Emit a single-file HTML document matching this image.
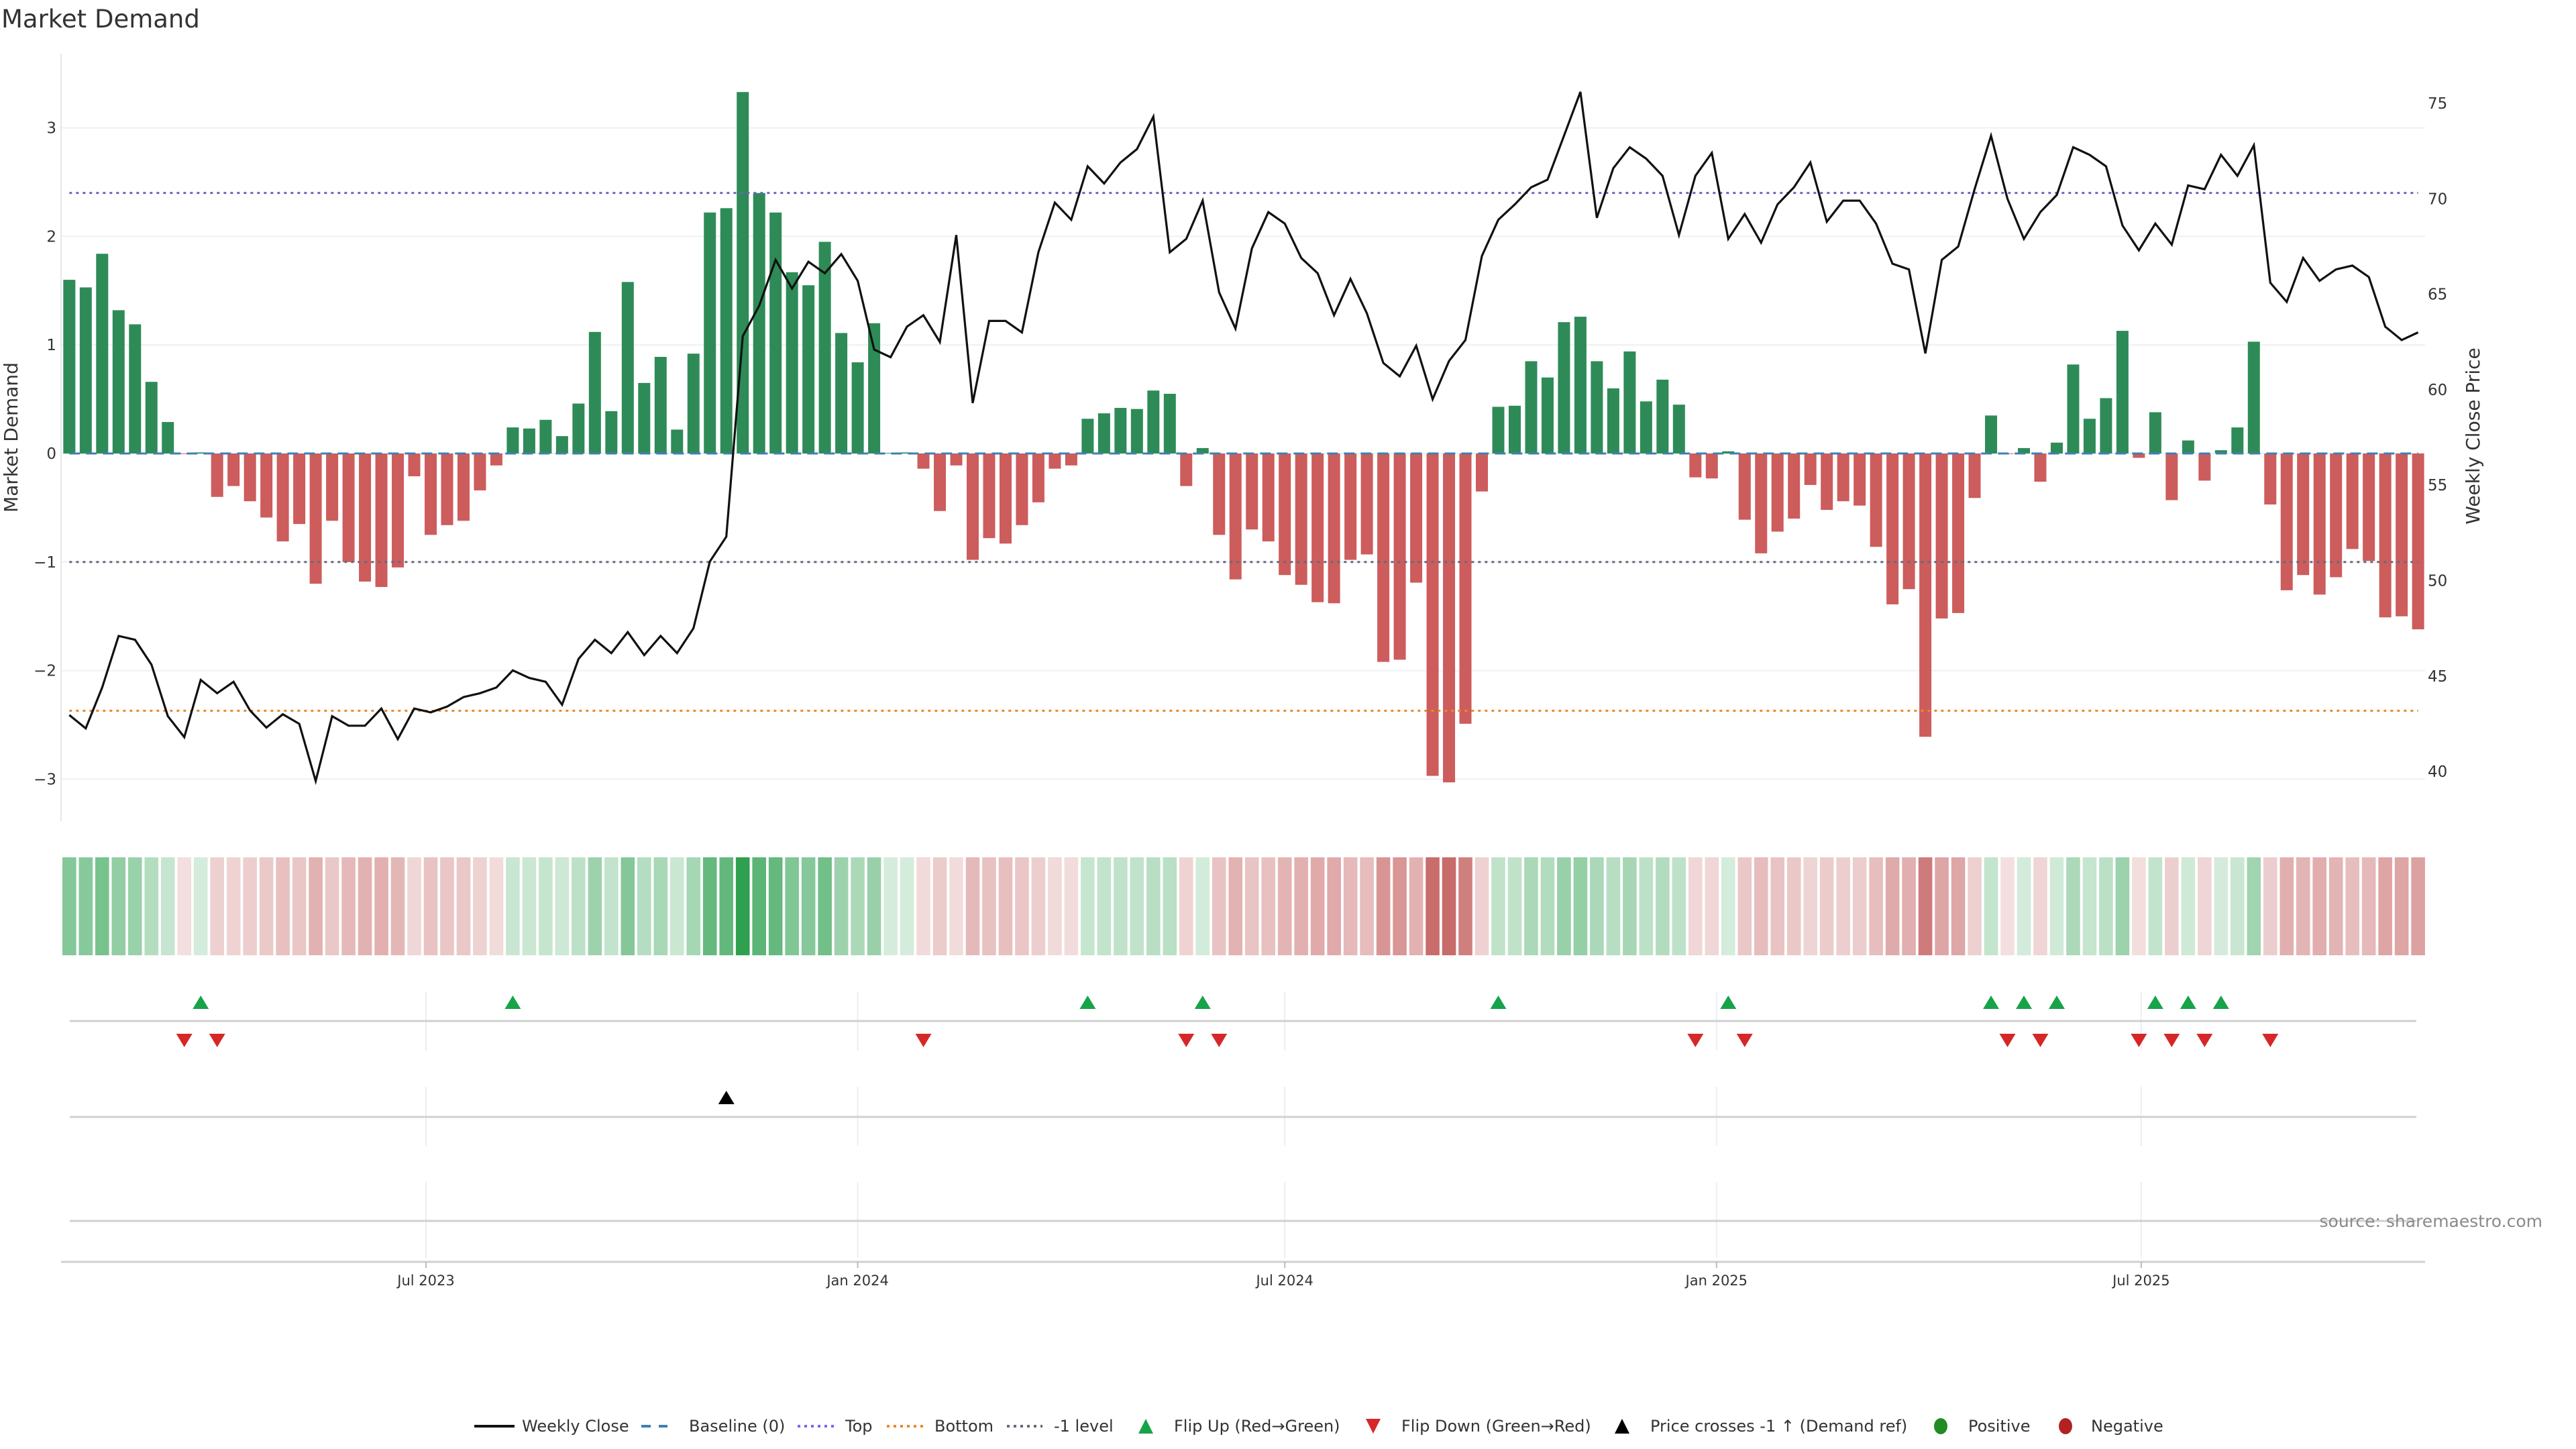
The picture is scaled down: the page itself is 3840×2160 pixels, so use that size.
<!DOCTYPE html>
<html><head><meta charset="utf-8">
<style>
html,body{margin:0;padding:0;background:#fff;}
svg{display:block;font-family:"DejaVu Sans","Liberation Sans",sans-serif;}
</style></head>
<body>
<svg id="chart" xmlns="http://www.w3.org/2000/svg" width="3840" height="2160" viewBox="0 0 3840 2160">
  <rect x="0" y="0" width="3840" height="2160" fill="#fff"/>
  <text x="2" y="41" font-size="37" fill="#333">Market Demand</text>
  <g id="grid"></g>
  <line x1="91" y1="80" x2="91" y2="1224" stroke="#e6e7ec" stroke-width="2"/>
  <g id="bars"></g>
  <g id="refs"></g>
  <g id="price"></g>
  <g id="yticks"></g>
  <g id="rticks"></g>
  <text transform="translate(26,652) rotate(-90)" text-anchor="middle" font-size="28" fill="#333">Market Demand</text>
  <text transform="translate(3696,650) rotate(-90)" text-anchor="middle" font-size="28" fill="#333">Weekly Close Price</text>
  <g id="heat"></g>
  <g id="lower"></g>
  <text x="3790" y="1829" text-anchor="end" font-size="25" fill="#8a8a8a">source: sharemaestro.com</text>
  <g id="legend"></g>
</svg>
<script>
const categoriesStart = "2023-01-30";
const demandValues = [1.60,1.53,1.84,1.32,1.19,0.66,0.29,-0.005,0.01,-0.40,-0.30,-0.44,-0.59,-0.81,-0.65,-1.20,-0.62,-1.00,-1.18,-1.23,-1.05,-0.21,-0.75,-0.66,-0.62,-0.34,-0.11,0.24,0.23,0.31,0.16,0.46,1.12,0.39,1.58,0.65,0.89,0.22,0.92,2.22,2.26,3.33,2.40,2.22,1.67,1.55,1.95,1.11,0.84,1.20,0.005,0.01,-0.14,-0.53,-0.11,-0.98,-0.78,-0.83,-0.66,-0.45,-0.14,-0.11,0.32,0.37,0.42,0.41,0.58,0.55,-0.30,0.05,-0.75,-1.16,-0.70,-0.81,-1.12,-1.21,-1.37,-1.38,-0.98,-0.93,-1.92,-1.90,-1.19,-2.97,-3.03,-2.49,-0.35,0.43,0.44,0.85,0.70,1.21,1.26,0.85,0.60,0.94,0.48,0.68,0.45,-0.22,-0.23,0.02,-0.61,-0.92,-0.72,-0.60,-0.29,-0.52,-0.44,-0.48,-0.86,-1.39,-1.25,-2.61,-1.52,-1.47,-0.41,0.35,-0.005,0.05,-0.26,0.10,0.82,0.32,0.51,1.13,-0.04,0.38,-0.43,0.12,-0.25,0.03,0.24,1.03,-0.47,-1.26,-1.12,-1.30,-1.14,-0.88,-0.99,-1.51,-1.50,-1.62];
const priceValues = [42.96,42.26,44.4,47.1,46.9,45.6,42.9,41.8,44.8,44.1,44.7,43.2,42.3,43.0,42.5,39.5,42.9,42.4,42.4,43.3,41.7,43.3,43.1,43.4,43.9,44.1,44.4,45.3,44.9,44.7,43.5,45.9,46.9,46.2,47.3,46.1,47.1,46.2,47.5,51.0,52.3,62.8,64.4,66.8,65.3,66.7,66.1,67.1,65.7,62.1,61.7,63.3,63.9,62.5,68.1,59.3,63.6,63.6,63.0,67.2,69.8,68.9,71.7,70.8,71.9,72.6,74.3,67.2,67.9,69.9,65.1,63.2,67.4,69.3,68.7,66.9,66.1,63.9,65.8,64.0,61.4,60.7,62.3,59.5,61.5,62.6,67.0,68.9,69.7,70.6,71.0,73.3,75.6,69.0,71.6,72.7,72.1,71.2,68.1,71.2,72.4,67.9,69.2,67.7,69.7,70.6,71.9,68.8,69.9,69.9,68.7,66.6,66.3,61.9,66.8,67.5,70.5,73.3,70.0,67.9,69.3,70.2,72.7,72.3,71.7,68.6,67.3,68.7,67.6,70.7,70.5,72.3,71.2,72.8,65.6,64.6,66.9,65.7,66.3,66.5,65.9,63.3,62.6,63.0];
const leftTicks = [3,2,1,0,-1,-2,-3];
const leftTickLabels = ["3","2","1","0","\u22121","\u22122","\u22123"];
const rightTicks = [75,70,65,60,55,50,45,40];
const refLevels = [2.40,-2.37,-1];
const priceCrossIdx = [40];
const xTickDates = ["2023-07-01","2024-01-01","2024-07-01","2025-01-01","2025-07-01"];
const xTickLabels = ["Jul 2023","Jan 2024","Jul 2024","Jan 2025","Jul 2025"];

const NS="http://www.w3.org/2000/svg";
function mk(tag,attrs,parent){const e=document.createElementNS(NS,tag);for(const k in attrs)e.setAttribute(k,attrs[k]);parent.appendChild(e);return e;}
const DAY=86400000;
const t0=Date.parse("2023-07-01");
function xDate(ms){return 635+(ms-t0)/DAY*3.4978;}
const startMs=Date.parse(categoriesStart);
function xIdx(i){return xDate(startMs+i*7*DAY);}
function yL(v){return 676-161.8*v;}
function yR(p){return 154+(75-p)*28.46;}
const X0=xIdx(0), X1=xIdx(demandValues.length-1);

// gridlines + left ticks
const grid=document.getElementById('grid'), yt=document.getElementById('yticks');
leftTicks.forEach((v,k)=>{
  const g=mk('line',{x1:91,x2:3615,y1:yL(v),y2:yL(v),stroke:'#eef0f3','stroke-width':2},grid);
  
  
  const t=mk('text',{x:84,y:yL(v)+8,'text-anchor':'end','font-size':23,fill:'#333'},yt);
  t.textContent=leftTickLabels[k];
  
  
});
const rt=document.getElementById('rticks');
rightTicks.forEach(p=>{
  const t=mk('text',{x:3619,y:yR(p)+8,'font-size':23,fill:'#333'},rt);
  t.textContent=String(p);
  
  
});

// bars
const bars=document.getElementById('bars');
demandValues.forEach((v,i)=>{
  const cx=xIdx(i), y0=yL(0), y1=yL(v);
  const r=mk('rect',{x:cx-9,width:18,y:Math.min(y0,y1),height:Math.max(Math.abs(y1-y0),0.6),fill:v>=0?'#2e8b57':'#cd5c5c'},bars);
  
  
});

// reference lines
const refs=document.getElementById('refs');
let b=mk('line',{x1:X0,x2:X1,y1:yL(0),y2:yL(0),stroke:'#3f7fb3','stroke-width':3,'stroke-dasharray':'16 9'},refs);


const refColors=['#6f62c4','#e8892b','#666a78'];
const refNames=['top-level-line','bottom-level-line','minus-one-level-line'];
refLevels.forEach((v,k)=>{
  const l=mk('line',{x1:X0,x2:X1,y1:yL(v),y2:yL(v),stroke:refColors[k],'stroke-width':3,'stroke-dasharray':'4 6'},refs);
  
  
});

// price line
const pg=document.getElementById('price');
const pl=mk('polyline',{points:priceValues.map((p,i)=>xIdx(i).toFixed(1)+','+yR(p).toFixed(1)).join(' '),fill:'none',stroke:'#111','stroke-width':3.2,'stroke-linejoin':'miter'},pg);



// heatmap
const heat=document.getElementById('heat');
const maxAbs=3.3;
demandValues.forEach((v,i)=>{
  const a=0.2+0.8*Math.min(1,Math.abs(v)/maxAbs);
  const c=v>=0?'rgba(46,160,80,'+a.toFixed(3)+')':'rgba(196,96,96,'+a.toFixed(3)+')';
  const r=mk('rect',{x:xIdx(i)-10.3,width:20.6,y:1278,height:146,fill:c},heat);
  
  
});

// lower panels
const low=document.getElementById('lower');
[[1478,1566],[1620,1708],[1762,1875]].forEach(rg=>{
  xTickDates.forEach(d=>{
    const x=xDate(Date.parse(d));
    const l=mk('line',{x1:x,x2:x,y1:rg[0],y2:rg[1],stroke:'#eceef1','stroke-width':2},low);
    
    
  });
});
[1522,1665,1820].forEach(y=>{
  const l=mk('line',{x1:104,x2:3602,y1:y,y2:y,stroke:'#d0d0d0','stroke-width':3},low);
  
  
});
const ax=mk('line',{x1:91,x2:3615,y1:1881,y2:1881,stroke:'#d0d0d0','stroke-width':3},low);


xTickDates.forEach((d,k)=>{
  const x=xDate(Date.parse(d));
  const tk=mk('line',{x1:x,x2:x,y1:1881,y2:1890,stroke:'#bbb','stroke-width':2},low);
  
  
  const t=mk('text',{x:x,y:1916,'text-anchor':'middle','font-size':21,fill:'#333'},low);
  t.textContent=xTickLabels[k];
  
  
});
function tri(cx,cy,up,color,name){
  const w=12,h=10;
  const pts=up?[[cx-w,cy+h],[cx+w,cy+h],[cx,cy-h]]:[[cx-w,cy-h],[cx+w,cy-h],[cx,cy+h]];
  const p=mk('polygon',{points:pts.map(q=>q.join(',')).join(' '),fill:color},low);
  
  
}
for(let i=1;i<demandValues.length;i++){
  const a=demandValues[i-1],c=demandValues[i];
  if(a<=0&&c>0) tri(xIdx(i),1494,true,'#16a34a','flip-up-marker');
  if(a>0&&c<=0) tri(xIdx(i),1551,false,'#d62728','flip-down-marker');
}
priceCrossIdx.forEach(i=>tri(xIdx(i),1636,true,'#000','price-cross-marker'));

// legend
const lg=document.getElementById('legend');
const LY=2126;
function ltext(x,s){const t=mk('text',{x:x,y:LY+8,'font-size':24,fill:'#333'},lg);t.textContent=s;}
function lline(x1,x2,color,dash,name){const l=mk('line',{x1:x1,x2:x2,y1:LY,y2:LY,stroke:color,'stroke-width':4,'stroke-dasharray':dash},lg);}
lline(707,767,'#111','none','legend-weekly-close');ltext(778,'Weekly Close');
lline(956,995,'#3f7fb3','14 12','legend-baseline');ltext(1027,'Baseline (0)');
lline(1189,1244,'#7b68ee','4 6','legend-top');ltext(1260,'Top');
lline(1322,1376,'#e8892b','4 6','legend-bottom');ltext(1393,'Bottom');
lline(1501,1554,'#666a78','4 6','legend-minus-one');ltext(1571,'-1 level');
function ltri(cx,up,color,name){const w=11,h=11;const pts=up?[[cx-w,LY+h],[cx+w,LY+h],[cx,LY-h]]:[[cx-w,LY-h],[cx+w,LY-h],[cx,LY+h]];const p=mk('polygon',{points:pts.map(q=>q.join(',')).join(' '),fill:color},lg);}
ltri(1708,true,'#16a34a','legend-flip-up');ltext(1750,'Flip Up (Red\u2192Green)');
ltri(2047,false,'#d62728','legend-flip-down');ltext(2089,'Flip Down (Green\u2192Red)');
ltri(2418,true,'#000','legend-price-cross');ltext(2460,'Price crosses -1 \u2191 (Demand ref)');
let c1=mk('ellipse',{cx:2893,cy:LY,rx:10,ry:12,fill:'#228b22'},lg);


ltext(2934,'Positive');
let c2=mk('ellipse',{cx:3079,cy:LY,rx:10,ry:12,fill:'#b22222'},lg);


ltext(3117,'Negative');
</script>
</body></html>
